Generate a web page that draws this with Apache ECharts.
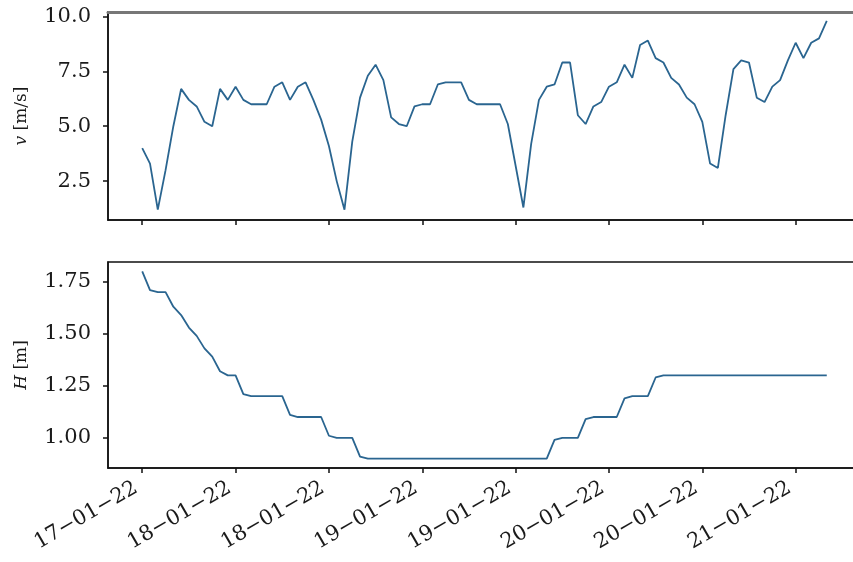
<!DOCTYPE html>
<html>
<head>
<meta charset="utf-8">
<script src="https://cdn.jsdelivr.net/npm/echarts@6/dist/echarts.min.js"></script>
<style>
  html, body { margin: 0; padding: 0; background: #fff; }
  #chart { width: 853px; height: 562px; }
</style>
</head>
<body>
<div id="chart"></div>
<script>
// Hours since 17-01-22 12:00, one sample per hour
const hours = Array.from({ length: 89 }, (_, i) => i);

// Wind speed v [m/s]
const windSpeed = [
  4.0, 3.3, 1.2, 3.0, 5.0, 6.7, 6.2, 5.9, 5.2, 5.0,
  6.7, 6.2, 6.8, 6.2, 6.0, 6.0, 6.0, 6.8, 7.0, 6.2,
  6.8, 7.0, 6.2, 5.3, 4.1, 2.5, 1.2, 4.3, 6.3, 7.3,
  7.8, 7.1, 5.4, 5.1, 5.0, 5.9, 6.0, 6.0, 6.9, 7.0,
  7.0, 7.0, 6.2, 6.0, 6.0, 6.0, 6.0, 5.1, 3.2, 1.3,
  4.2, 6.2, 6.8, 6.9, 7.9, 7.9, 5.5, 5.1, 5.9, 6.1,
  6.8, 7.0, 7.8, 7.2, 8.7, 8.9, 8.1, 7.9, 7.2, 6.9,
  6.3, 6.0, 5.2, 3.3, 3.1, 5.5, 7.6, 8.0, 7.9, 6.3,
  6.1, 6.8, 7.1, 8.0, 8.8, 8.1, 8.8, 9.0, 9.8
];

// Wave height H [m]
const waveHeight = [
  1.80, 1.71, 1.70, 1.70, 1.63, 1.59, 1.53, 1.49, 1.43, 1.39,
  1.32, 1.30, 1.30, 1.21, 1.20, 1.20, 1.20, 1.20, 1.20, 1.11,
  1.10, 1.10, 1.10, 1.10, 1.01, 1.00, 1.00, 1.00, 0.91, 0.90,
  0.90, 0.90, 0.90, 0.90, 0.90, 0.90, 0.90, 0.90, 0.90, 0.90,
  0.90, 0.90, 0.90, 0.90, 0.90, 0.90, 0.90, 0.90, 0.90, 0.90,
  0.90, 0.90, 0.90, 0.99, 1.00, 1.00, 1.00, 1.09, 1.10, 1.10,
  1.10, 1.10, 1.19, 1.20, 1.20, 1.20, 1.29, 1.30, 1.30, 1.30,
  1.30, 1.30, 1.30, 1.30, 1.30, 1.30, 1.30, 1.30, 1.30, 1.30,
  1.30, 1.30, 1.30, 1.30, 1.30, 1.30, 1.30, 1.30, 1.30
];

// Date ticks every 12 hours
const tickHours = [0, 12, 24, 36, 48, 60, 72, 84];
const tickLabels = ['17-01-22', '18-01-22', '18-01-22', '19-01-22',
                    '19-01-22', '20-01-22', '20-01-22', '21-01-22'];

const windTicks = [2.5, 5.0, 7.5, 10.0];
const heightTicks = [1.0, 1.25, 1.5, 1.75];

const FONT = 'DejaVu Serif';
const TXT = '#1a1a1a';
const LINE = '#2a6590';
const TICK_FS = 21;

const pairs = (ys) => hours.map((h, i) => [h, ys[i]]);

const baseX = {
  type: 'value', min: -4.4, max: 92.4,
  splitLine: { show: false },
  axisLine: { show: true, onZero: false, lineStyle: { color: '#111', width: 1.5 } },
  axisTick: { show: true, length: 5, customValues: tickHours, lineStyle: { color: '#111', width: 1.5 } }
};

const nameStyle = {
  fontFamily: FONT, fontSize: 17, color: TXT,
  rich: { i: { fontFamily: FONT, fontSize: 17, fontStyle: 'italic', color: TXT } }
};

const baseY = (extra) => Object.assign({
  type: 'value', nameLocation: 'middle', nameGap: 78, nameRotate: 90,
  nameTextStyle: nameStyle,
  splitLine: { show: false },
  axisLine: { show: true, onZero: false, lineStyle: { color: '#111', width: 1.5 } }
}, extra);

const gridBase = { left: 108, width: 753, show: true, borderColor: '#111', borderWidth: 1.5,
                   outerBoundsMode: 'none', containLabel: false };

const chart = echarts.init(document.getElementById('chart'), null, { renderer: 'canvas' });
chart.setOption({
  animation: false,
  backgroundColor: '#fff',
  grid: [
    Object.assign({ top: 12, height: 208 }, gridBase),
    Object.assign({ top: 262, height: 206 }, gridBase)
  ],
  xAxis: [
    Object.assign({}, baseX, { gridIndex: 0, axisLabel: { show: false } }),
    Object.assign({}, baseX, {
      gridIndex: 1,
      axisLabel: {
        show: true, rotate: 30, margin: 15, padding: [0, 7, 0, 0], customValues: tickHours,
        fontFamily: FONT, fontSize: TICK_FS, color: TXT,
        formatter: (v) => tickLabels[tickHours.indexOf(v)].replace(/-/g, '\u2212')
      }
    }),
    {
      gridIndex: 0, type: 'value', position: 'top', min: -4.4, max: 92.4,
      axisLine: { show: true, onZero: false, lineStyle: { color: '#777', width: 3 } },
      axisTick: { show: false }, axisLabel: { show: false }, splitLine: { show: false }
    }
  ],
  yAxis: [
    baseY({
      gridIndex: 0, min: 0.73, max: 10.2, name: '{i|v} [m/s]',
      axisTick: { show: true, length: 5, customValues: windTicks, lineStyle: { color: '#111', width: 1.5 } },
      axisLabel: {
        customValues: windTicks, margin: 17, fontFamily: FONT, fontSize: TICK_FS, color: TXT,
        formatter: (v) => v.toFixed(1)
      }
    }),
    baseY({
      gridIndex: 1, min: 0.855, max: 1.845, name: '{i|H} [m]',
      axisTick: { show: true, length: 5, customValues: heightTicks, lineStyle: { color: '#111', width: 1.5 } },
      axisLabel: {
        customValues: heightTicks, margin: 17, fontFamily: FONT, fontSize: TICK_FS, color: TXT,
        formatter: (v) => v.toFixed(2)
      }
    })
  ],
  series: [
    {
      type: 'line', xAxisIndex: 0, yAxisIndex: 0, data: pairs(windSpeed),
      showSymbol: false, lineStyle: { color: LINE, width: 1.8 }, silent: true
    },
    {
      type: 'line', xAxisIndex: 1, yAxisIndex: 1, data: pairs(waveHeight),
      showSymbol: false, lineStyle: { color: LINE, width: 1.8 }, silent: true
    }
  ]
});
</script>
</body>
</html>
